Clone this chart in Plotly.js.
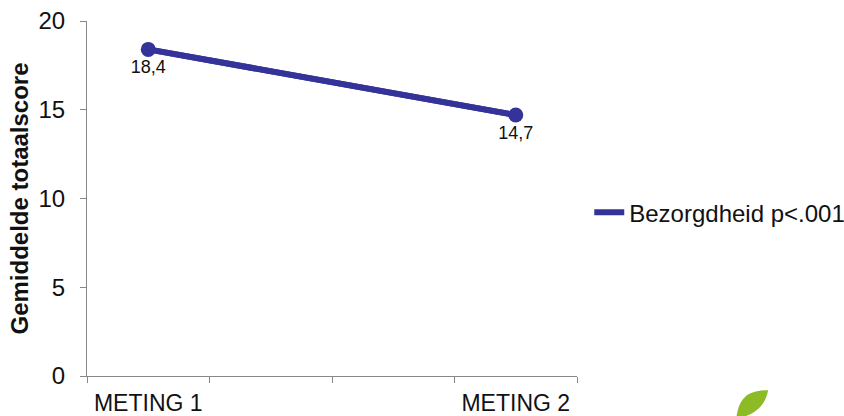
<!DOCTYPE html>
<html>
<head>
<meta charset="utf-8">
<script src="https://cdn.plot.ly/plotly-3.0.1.min.js"></script>
<style>html,body{margin:0;padding:0;background:#fff;}#chart{width:844px;height:416px;}</style>
</head>
<body>
<div id="chart"></div>
<script>
// Category slots along the x axis (Excel-style axis with 4 slots, labelled at the ends)
var axisCategories = ["METING 1", " ", "  ", "METING 2"];
var categories = ["METING 1", "METING 2"];
var values = [18.4, 14.7];
var valueLabels = ["18,4", "14,7"];
var seriesName = "Bezorgdheid p<.001";
var yTicks = [0, 5, 10, 15, 20];
var yTitle = "Gemiddelde totaalscore";

var FONT = "Liberation Sans";
var BLUE = "#333399";

var mainTrace = {
  type: "scatter",
  mode: "lines+markers+text",
  x: categories,
  y: values,
  text: valueLabels,
  textposition: "bottom center",
  textfont: {family: FONT, size: 18, color: "#111"},
  name: seriesName,
  line: {color: BLUE, width: 6},
  marker: {color: BLUE, size: 15},
  cliponaxis: false,
  showlegend: false
};
// legend entry drawn as a line only (same data, line only)
var legendTrace = {
  type: "scatter",
  mode: "lines",
  x: categories,
  y: values,
  name: seriesName,
  line: {color: BLUE, width: 6},
  hoverinfo: "skip",
  showlegend: true
};

var layout = {
  width: 844, height: 416,
  margin: {l: 87, r: 267, t: 21, b: 40, autoexpand: false},
  paper_bgcolor: "#fff", plot_bgcolor: "#fff",
  font: {family: FONT, color: "#111"},
  showlegend: true,
  legend: {
    x: 1.025, xanchor: "left", y: 0.46, yanchor: "middle",
    font: {family: FONT, size: 24, color: "#111"},
    itemwidth: 30, bgcolor: "rgba(0,0,0,0)"
  },
  xaxis: {
    type: "category",
    categoryorder: "array",
    categoryarray: axisCategories,
    range: [-0.5, 3.5],
    tickson: "boundaries",
    ticks: "outside", ticklen: 6, tickcolor: "#888", tickwidth: 1,
    ticklabelstandoff: 6,
    showline: true, linecolor: "#888", linewidth: 1,
    showgrid: false, zeroline: false,
    tickfont: {family: FONT, size: 23, color: "#111"},
    fixedrange: true
  },
  yaxis: {
    range: [0, 20],
    tickvals: yTicks,
    ticks: "outside", ticklen: 6, tickcolor: "#888", tickwidth: 1,
    ticklabelstandoff: 10,
    showline: true, linecolor: "#888", linewidth: 1,
    showgrid: false, zeroline: false,
    tickfont: {family: FONT, size: 24, color: "#111"},
    title: {text: "<b>" + yTitle + "</b>", font: {family: FONT, size: 24, color: "#111"}, standoff: 3},
    fixedrange: true
  },
  shapes: [
    {
      type: "path", xref: "paper", yref: "paper", layer: "above",
      path: "M 1.325 -0.12 C 1.33 -0.06, 1.35 -0.04, 1.39 -0.04 C 1.385 -0.08, 1.365 -0.11, 1.325 -0.12 Z",
      fillcolor: "#8dbb25", line: {width: 0}
    },
    {
      type: "path", xref: "paper", yref: "paper", layer: "above",
      path: "M 1.30 -0.2 C 1.31 -0.15, 1.34 -0.14, 1.37 -0.15 L 1.375 -0.2 Z",
      fillcolor: "#8dbb25", line: {width: 0}
    }
  ]
};

Plotly.newPlot("chart", [legendTrace, mainTrace], layout, {displayModeBar: false, staticPlot: true});
</script>
</body>
</html>
